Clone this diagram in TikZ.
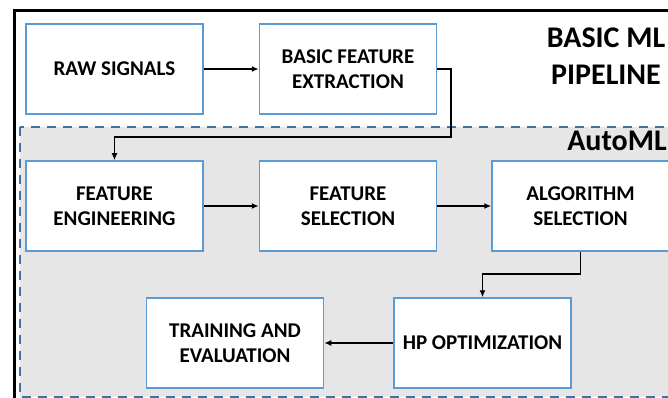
\documentclass[tikz,border=0pt]{standalone}
\usepackage{fontspec}
\setmainfont{Carlito}
\usetikzlibrary{arrows.meta}
\definecolor{boxblue}{RGB}{91,155,213}
\definecolor{dashblue}{RGB}{65,113,156}
\definecolor{areagray}{RGB}{230,230,230}
\tikzset{
  stagebox/.style={draw=boxblue, line width=1.5pt, fill=white, minimum width=177pt, minimum height=90pt, align=center, inner sep=2pt, font=\fontsize{21}{25}\selectfont\bfseries},
  flow/.style={line width=1.6pt, -{Latex[length=7pt,width=6pt]}},
  titletext/.style={align=center, font=\fontsize{30}{37}\selectfont\bfseries}
}
\begin{document}
\begin{tikzpicture}[x=1pt,y=-1pt]
\useasboundingbox (0,0) rectangle (668,398);
\fill[white] (0,0) rectangle (668,398);
\clip (0,0) rectangle (668,398);
% outer pipeline frame
\draw[line width=3pt, black] (14,11) rectangle (720,460);
% AutoML area
\draw[dashblue, fill=areagray, line width=2pt, dash pattern=on 9pt off 7pt] (20,127) rectangle (720,397);

\node[titletext] (title) at (606,56) {BASIC ML\\PIPELINE};
\node[titletext] (automl) at (617,141) {AutoML};

\node[stagebox] (raw) at (114.5,69) {RAW SIGNALS};
\node[stagebox] (bfe) at (348,69) {BASIC FEATURE\\EXTRACTION};
\node[stagebox] (fe) at (114.5,206) {FEATURE\\ENGINEERING};
\node[stagebox] (fs) at (348,206) {FEATURE\\SELECTION};
\node[stagebox] (as) at (580.5,206) {ALGORITHM\\SELECTION};
\node[stagebox] (te) at (235,343) {TRAINING AND\\EVALUATION};
\node[stagebox] (hp) at (482.5,343) {HP OPTIMIZATION};

\coordinate (b1) at (451,69);
\coordinate (b2) at (451,137);
\coordinate (b3) at (114.5,137);
\coordinate (a1) at (580.5,274);
\coordinate (a2) at (482.5,274);

\draw[flow] (raw.east) -- (bfe.west);
\draw[flow] (bfe.east) -- (b1) -- (b2) -- (b3) -- (fe.north);
\draw[flow] (fe.east) -- (fs.west);
\draw[flow] (fs.east) -- (as.west);
\draw[flow] (as.south) -- (a1) -- (a2) -- (hp.north);
\draw[flow] (hp.west) -- (te.east);
\end{tikzpicture}
\end{document}
